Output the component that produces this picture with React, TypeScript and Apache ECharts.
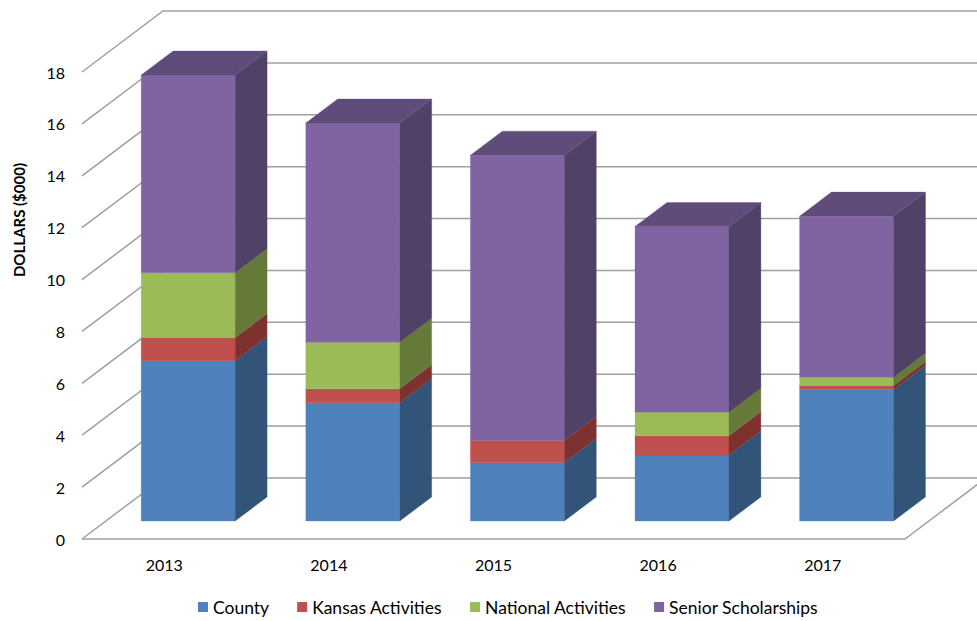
import { useEffect, useRef } from "react";
import * as echarts from "echarts";

// ---- data ----
const categories = ["2013", "2014", "2015", "2016", "2017"];
const county = [6.18, 4.56, 2.25, 2.54, 5.07];
const kansas = [0.89, 0.54, 0.85, 0.75, 0.15];
const national = [2.5, 1.79, 0, 0.9, 0.32];
const senior = [7.62, 8.45, 11.0, 7.16, 6.21];
const seriesNames = ["County", "Kansas Activities", "National Activities", "Senior Scholarships"];
const yTicks = [0, 2, 4, 6, 8, 10, 12, 14, 16, 18];

// ---- styles ----
const frontColors = ["#4F81BD", "#C0504D", "#9BBB59", "#8064A2"];
const sideColors = ["#325479", "#7E3230", "#657A39", "#504167"];
const topColors = ["#3B6191", "#933D3A", "#768F44", "#604C7B"];
const FONT = "Lato";
// 3D projection (pixels): full floor depth offset, and the bar's depth position
const DX = 81;
const DY = -61;
const BAR_FRONT = 0.295;
const BAR_DEPTH = 0.394;
const BAR_W = 0.571;

export default function App() {
  const ref = useRef<HTMLDivElement>(null);
  useEffect(() => {
    if (!ref.current) return;
    const chart = echarts.init(ref.current, null, { renderer: "svg" });
    const layers = [county, kansas, national, senior];
    const n = categories.length;
    const topIndex = categories.map((_, i) => {
      let t = -1;
      layers.forEach((l, s) => {
        if (l[i] > 0) t = s;
      });
      return t;
    });

    const barSeries = layers.map((layer, s) => ({
      type: "custom",
      name: seriesNames[s],
      itemStyle: { color: frontColors[s] },
      z: 3,
      data: layer.map((v, i) => {
        let base = 0;
        for (let k = 0; k < s; k++) base += layers[k][i];
        return [i, base, v, topIndex[i] === s ? 1 : 0];
      }),
      encode: { x: 0, y: [1, 2] },
      renderItem: (params: any, api: any) => {
        const i = api.value(0);
        const base = api.value(1);
        const val = api.value(2);
        const isTop = api.value(3);
        if (!val) return { type: "group", children: [] };
        const c0 = api.coord([0, 0]);
        const c1 = api.coord([1, 0]);
        const band = c1[0] - c0[0];
        const ci = api.coord([i, base]);
        const cx = ci[0] + BAR_FRONT * DX;
        const yb = ci[1] + BAR_FRONT * DY;
        const yt = api.coord([i, base + val])[1] + BAR_FRONT * DY;
        const w = band * BAR_W;
        const x0 = cx - w / 2;
        const x1 = cx + w / 2;
        const bdx = BAR_DEPTH * DX;
        const bdy = BAR_DEPTH * DY;
        const children: any[] = [
          {
            type: "polygon",
            shape: { points: [[x0, yt], [x1, yt], [x1, yb], [x0, yb]] },
            style: { fill: frontColors[s], stroke: frontColors[s], lineWidth: 0.3 },
          },
          {
            type: "polygon",
            shape: { points: [[x1, yb], [x1 + bdx, yb + bdy], [x1 + bdx, yt + bdy], [x1, yt]] },
            style: { fill: sideColors[s], stroke: sideColors[s], lineWidth: 0.3 },
          },
        ];
        if (isTop) {
          children.push({
            type: "polygon",
            shape: { points: [[x0, yt], [x1, yt], [x1 + bdx, yt + bdy], [x0 + bdx, yt + bdy]] },
            style: { fill: topColors[s], stroke: topColors[s], lineWidth: 0.3 },
          });
        }
        return { type: "group", children };
      },
    }));

    const gridSeries = {
      type: "custom",
      name: "grid",
      silent: true,
      z: 1,
      data: yTicks.map((v) => [0, v]),
      encode: { x: 0, y: 1 },
      renderItem: (params: any, api: any) => {
        const v = api.value(1);
        const p0 = api.coord([0, v]);
        const p1 = api.coord([1, v]);
        const pl = api.coord([n - 1, v]);
        const band = p1[0] - p0[0];
        const left = p0[0] - band / 2;
        const right = pl[0] + band / 2;
        const y = p0[1];
        const lineStyle = { stroke: "#A0A0A0", lineWidth: 1.5, fill: null };
        const children: any[] = [
          {
            type: "polyline",
            shape: { points: [[left, y], [left + DX, y + DY], [right + DX, y + DY]] },
            style: lineStyle,
          },
        ];
        if (v === 0) {
          children.push({
            type: "polyline",
            shape: { points: [[left, y], [right, y], [right + DX, y + DY]] },
            style: lineStyle,
          });
        }
        return { type: "group", children };
      },
    };

    chart.setOption({
      animation: false,
      backgroundColor: "#FFFFFF",
      grid: { left: 82, right: 72, top: 72, bottom: 82, outerBoundsMode: "none" },
      xAxis: {
        type: "category",
        data: categories,
        axisLine: { show: false },
        axisTick: { show: false },
        axisLabel: { margin: 17, fontSize: 16, color: "#000", fontFamily: FONT },
        splitLine: { show: false },
      },
      yAxis: {
        type: "value",
        min: 0,
        max: 18,
        interval: 2,
        axisLine: { show: false },
        axisTick: { show: false },
        axisLabel: { margin: 17, fontSize: 16, color: "#000", fontFamily: FONT },
        splitLine: { show: false },
      },
      legend: {
        data: seriesNames,
        top: 593,
        left: 193,
        icon: "rect",
        itemWidth: 10,
        itemHeight: 10,
        itemGap: 28,
        textStyle: { fontSize: 17.5, color: "#000", fontFamily: FONT },
      },
      graphic: [
        {
          type: "text",
          x: 19,
          y: 220,
          rotation: Math.PI / 2,
          style: {
            text: "DOLLARS ($000)",
            fontSize: 15,
            fontWeight: "bold",
            fontFamily: FONT,
            fill: "#000",
            align: "center",
            verticalAlign: "middle",
          },
        },
      ],
      series: [gridSeries, ...barSeries],
    });
    return () => chart.dispose();
  }, []);
  return <div ref={ref} style={{ position: "fixed", left: 0, top: 0, width: 977, height: 621 }} />;
}
